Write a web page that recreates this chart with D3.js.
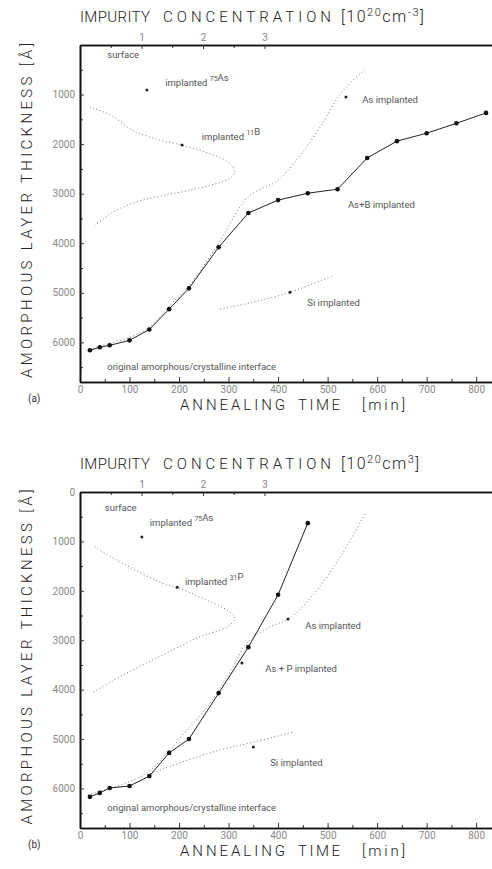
<!DOCTYPE html>
<html><head><meta charset="utf-8">
<script src="https://cdn.jsdelivr.net/npm/d3@7/dist/d3.min.js"></script>
<style>
body{margin:0;background:#fff;}
text{font-family:Roboto,"Liberation Sans",sans-serif;}
</style></head>
<body><div id="chart"></div>
<script>
// ---- panel (a): As + B ----
const timeAB = [20,40,60,100,140,180,220,280,340,400,460,520,580,640,700,760,820];
const depthAB = [6160,6100,6060,5960,5740,5330,4910,4080,3390,3130,2990,2910,2280,1940,1780,1580,1370];
const timeAsA = [20,60,100,140,180,220,280,340,400,445,490,520,545,575];
const depthAsA = [6140,6020,5900,5690,5270,4860,4000,3060,2730,2220,1580,1070,770,500];
const timeSiA = [283,349,424,511];
const depthSiA = [5330,5190,4990,4650];
const concB = [0.16,0.49,0.86,1.30,1.66,2.03,2.36,2.49,2.52,2.44,2.23,1.79,1.30,0.86,0.49,0.21];
const depthB = [1250,1410,1720,1920,2020,2160,2320,2460,2570,2690,2790,2930,3050,3190,3410,3680];

// ---- panel (b): As + P ----
const timeAP = [20,40,60,100,140,180,220,280,340,400,460];
const depthAP = [6170,6090,5990,5950,5750,5280,5000,4070,3140,2080,630];
const timeAsB = [16,97,137,178,212,257,303,337,380,424,479,531,576];
const depthAsB = [6130,5870,5670,5260,4860,4350,3640,3060,2750,2550,1980,1230,430];
const timeSiB = [135,208,283,343,430];
const depthSiB = [5730,5460,5220,5080,4860];
const concP = [0.24,0.60,1.41,1.58,1.95,2.39,2.52,2.39,1.95,1.41,0.86,0.21];
const depthP = [1110,1380,1880,1930,2130,2390,2550,2730,2930,3260,3600,4050];

// axis ticks
const timeTicks = [0,100,200,300,400,500,600,700,800];
const depthTicks = [1000,2000,3000,4000,5000,6000];
const concTicks = [1,2,3];

const svg = d3.select("#chart").append("svg").attr("width",492).attr("height",869);

const x = d3.scaleLinear().domain([0,832]).range([80,492]);
const c = d3.scaleLinear().domain([0,6.7]).range([80,492]);

const zip = (a,b)=> a.map((v,i)=>[v,b[i]]);

function word(g,txt,x0,y0,len){
  return g.append("text").attr("x",x0).attr("y",y0).attr("textLength",len).attr("lengthAdjust","spacing")
    .attr("font-size",15).attr("font-weight",300).attr("fill","#222").text(txt);
}

function drawPanel(p){
  const y = d3.scaleLinear().domain([0,6800]).range([p.top,p.bottom]);
  const g = svg.append("g");

  // titles
  const ty = p.top-23;
  word(g,"IMPURITY",80,ty,70);
  word(g,"CONCENTRATION",163,ty,168);
  g.append("text").attr("x",341).attr("y",ty).attr("font-size",16).attr("font-weight",300).attr("fill","#222")
    .attr("letter-spacing",1.5)
    .html('[10<tspan font-size="11" dy="-6">20</tspan><tspan dy="6">cm</tspan><tspan font-size="11" dy="-6">'+p.exp+'</tspan><tspan dy="6">]</tspan>');
  const by = p.bottom+28;
  word(g,"ANNEALING",180,by,105);
  word(g,"TIME",298,by,42);
  word(g,"[min]",362,by,43);
  const mid = (p.top+p.bottom)/2 - 3;
  g.append("text").attr("transform","translate(32,"+mid+") rotate(-90)").attr("text-anchor","middle")
    .attr("textLength",335).attr("lengthAdjust","spacing")
    .attr("font-size",15).attr("font-weight",300).attr("fill","#222")
    .text("AMORPHOUS  LAYER  THICKNESS  [Å]");
  g.append("text").attr("x",28).attr("y",p.bottom+20).attr("font-size",10).attr("fill","#333").text(p.tag);

  // axes
  const axStyle = sel=>{
    sel.select(".domain").attr("stroke","#111").attr("stroke-width",1.6);
    sel.selectAll(".tick line").attr("stroke","#333");
    sel.selectAll("text").attr("fill","#888").attr("font-size",10).attr("font-family","Roboto,sans-serif");
  };
  const plain = d=>String(d);
  g.append("g").attr("transform","translate(0,"+p.bottom+")")
    .call(d3.axisBottom(x).tickValues(d3.range(50,832,100)).tickFormat("").tickSize(-3).tickSizeOuter(0)).call(axStyle);
  g.append("g").attr("transform","translate(0,"+p.bottom+")")
    .call(d3.axisBottom(x).tickValues(timeTicks).tickFormat(plain).tickSize(-5).tickSizeOuter(0).tickPadding(4)).call(axStyle);
  g.append("g").attr("transform","translate(80,0)")
    .call(d3.axisLeft(y).tickValues(d3.range(500,6800,1000)).tickFormat("").tickSize(-3).tickSizeOuter(0)).call(axStyle);
  g.append("g").attr("transform","translate(80,0)")
    .call(d3.axisLeft(y).tickValues(p.zero ? [0].concat(depthTicks) : depthTicks).tickFormat(plain).tickSize(-4).tickSizeOuter(0).tickPadding(5)).call(axStyle);
  g.append("g").attr("transform","translate(0,"+p.top+")")
    .call(d3.axisTop(c).tickValues([0.5,1.5,2.5]).tickFormat("").tickSize(-3).tickSizeOuter(0)).call(axStyle);
  g.append("g").attr("transform","translate(0,"+p.top+")")
    .call(d3.axisTop(c).tickValues(concTicks).tickFormat(plain).tickSize(-4).tickSizeOuter(0).tickPadding(4)).call(axStyle);

  const lineT = d3.line().x(d=>x(d[0])).y(d=>y(d[1]));
  const curveT = d3.line().x(d=>x(d[0])).y(d=>y(d[1])).curve(d3.curveCatmullRom);
  const curveC = d3.line().x(d=>c(d[0])).y(d=>y(d[1])).curve(d3.curveCatmullRom);

  // dotted curves
  [[curveC,p.profile],[curveT,p.asOnly],[curveT,p.si]].forEach(([fn,dat])=>{
    g.append("path").attr("d",fn(dat)).attr("fill","none").attr("stroke","#777")
      .attr("stroke-width",1).attr("stroke-dasharray","1,2.5");
  });
  // solid co-implanted curve
  g.append("path").attr("d",lineT(p.co)).attr("fill","none").attr("stroke","#222").attr("stroke-width",1);
  g.selectAll(".pt").data(p.co).join("circle").attr("cx",d=>x(d[0])).attr("cy",d=>y(d[1])).attr("r",2.3).attr("fill","#111");

  // leader marks
  p.marks.forEach(m=>{
    const px = m.conc ? c(m.v) : x(m.v);
    g.append("circle").attr("cx",px).attr("cy",y(m.d)).attr("r",1.5).attr("fill","#222");
  });

  // annotations
  p.notes.forEach(n=>{
    const t = g.append("text").attr("x",x(n.t)).attr("y",y(n.d)).attr("font-size",9.5).attr("fill","#555");
    n.parts.forEach(s=>{
      if(Array.isArray(s)) { t.append("tspan").attr("font-size",7).attr("dy",-5).text(s[0]); t.append("tspan").attr("dy",5).text(""); }
      else t.append("tspan").text(s);
    });
  });
}

drawPanel({
  top:45, bottom:382, tag:"(a)", exp:"-3", zero:false,
  co: zip(timeAB,depthAB), asOnly: zip(timeAsA,depthAsA), si: zip(timeSiA,depthSiA), profile: zip(concB,depthB),
  marks:[{v:135,d:910},{v:1.66,d:2020,conc:true},{v:537,d:1050},{v:424,d:4990}],
  notes:[
    {t:55,d:265,parts:["surface"]},
    {t:172,d:820,parts:["implanted  ",["75"],"As"]},
    {t:246,d:1920,parts:["implanted  ",["11"],"B"]},
    {t:570,d:1170,parts:["As implanted"]},
    {t:541,d:3290,parts:["As+B implanted"]},
    {t:459,d:5270,parts:["Si implanted"]},
    {t:55,d:6560,parts:["original amorphous/crystalline interface"]}
  ]
});
drawPanel({
  top:492, bottom:828, tag:"(b)", exp:"3", zero:true,
  co: zip(timeAP,depthAP), asOnly: zip(timeAsB,depthAsB), si: zip(timeSiB,depthSiB), profile: zip(concP,depthP),
  marks:[{v:125,d:910},{v:1.58,d:1930,conc:true},{v:420,d:2570},{v:327,d:3460},{v:350,d:5160}],
  notes:[
    {t:50,d:385,parts:["surface"]},
    {t:141,d:690,parts:["implanted  ",["75"],"As"]},
    {t:212,d:1880,parts:["implanted  ",["31"],"P"]},
    {t:455,d:2770,parts:["As implanted"]},
    {t:374,d:3640,parts:["As + P implanted"]},
    {t:384,d:5550,parts:["Si implanted"]},
    {t:55,d:6460,parts:["original amorphous/crystalline interface"]}
  ]
});
</script></body></html>
